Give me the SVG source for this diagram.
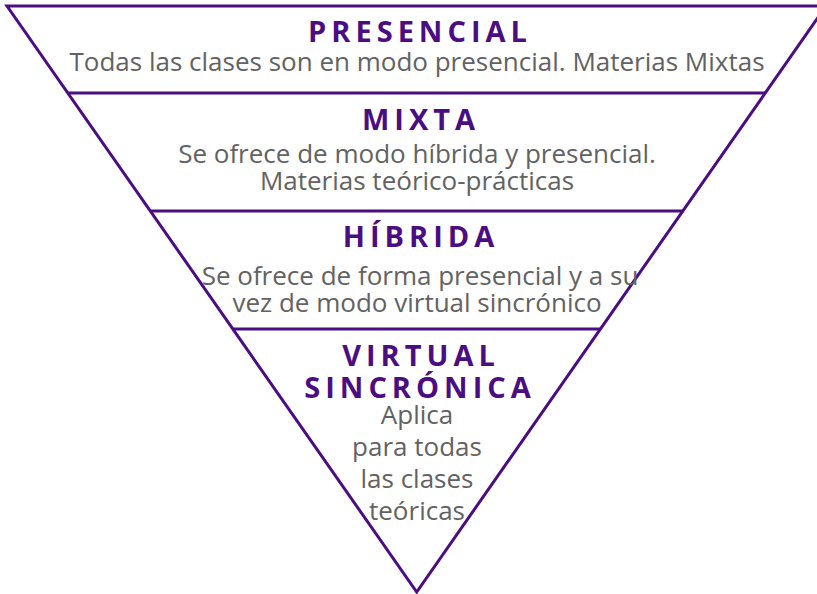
<svg xmlns="http://www.w3.org/2000/svg" width="817" height="594" viewBox="0 0 817 594">
<style>
.edge{fill:none;stroke:#4b0d82;stroke-width:3;stroke-linejoin:miter}
.sep{stroke:#4b0d82;stroke-width:3}
.t{font-family:"Open Sans","Liberation Sans",sans-serif;font-weight:700;font-size:29px;letter-spacing:5px;fill:#4b0d82;text-anchor:middle}
.b{font-family:"Open Sans","Liberation Sans",sans-serif;font-size:26px;fill:#626262;text-anchor:middle}
</style>
<rect width="817" height="594" fill="#ffffff"/>
<g id="pyramid">
<polygon class="edge" points="7,6 826,6 416.7,592"/>
</g>
<g id="separators">
<line class="sep" x1="67" y1="93" x2="766" y2="93"/>
<line class="sep" x1="150" y1="211" x2="684" y2="211"/>
<line class="sep" x1="232" y1="329" x2="601" y2="329"/>
</g>
<g id="presencial">
<text class="t" x="420" y="42">PRESENCIAL</text>
<text class="b" x="417" y="71">Todas las clases son en modo presencial. Materias Mixtas</text>
</g>
<g id="mixta">
<text class="t" x="421" y="130">MIXTA</text>
<text class="b" x="417" y="163">Se ofrece de modo híbrida y presencial.</text>
<text class="b" x="417" y="190">Materias teórico-prácticas</text>
</g>
<g id="hibrida">
<text class="t" x="421" y="247">HÍBRIDA</text>
<text class="b" x="420" y="285">Se ofrece de forma presencial y a su</text>
<text class="b" x="417" y="312">vez de modo virtual sincrónico</text>
</g>
<g id="virtual">
<text class="t" x="421" y="366">VIRTUAL</text>
<text class="t" x="420" y="398">SINCRÓNICA</text>
<text class="b" x="417" y="424">Aplica</text>
<text class="b" x="417" y="456">para todas</text>
<text class="b" x="417" y="488">las clases</text>
<text class="b" x="417" y="520">teóricas</text>
</g>
</svg>
